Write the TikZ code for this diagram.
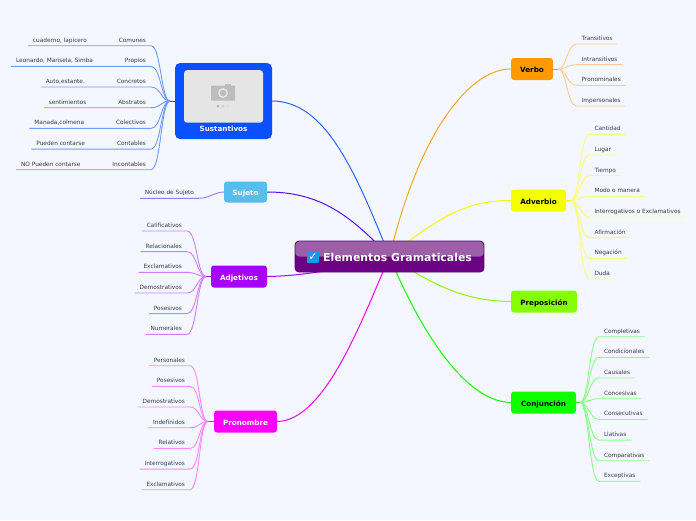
\documentclass[tikz,border=0pt]{standalone}
\usepackage{fontspec}
\setmainfont{DejaVu Sans}
\usetikzlibrary{positioning,backgrounds}
\definecolor{fondo}{HTML}{F4F7FF}
\definecolor{sustcolor}{HTML}{0A50FF}
\definecolor{sustbranch}{HTML}{2A66FF}
\definecolor{sustline}{HTML}{6F9BFF}
\definecolor{sujcolor}{HTML}{56BDED}
\definecolor{sujline}{HTML}{5511EE}
\definecolor{nucline}{HTML}{9A77FF}
\definecolor{adjcolor}{HTML}{A600FF}
\definecolor{adjline}{HTML}{CC80FF}
\definecolor{procolor}{HTML}{FF00FF}
\definecolor{proline}{HTML}{FF88FF}
\definecolor{vercolor}{HTML}{FF9900}
\definecolor{verbranch}{HTML}{FFA626}
\definecolor{verline}{HTML}{FFCC99}
\definecolor{advcolor}{HTML}{F4FF00}
\definecolor{advline}{HTML}{FAFF80}
\definecolor{prepcolor}{HTML}{88FF00}
\definecolor{concolor}{HTML}{0EFF00}
\definecolor{conline}{HTML}{8CFF8C}
\definecolor{textcolor}{HTML}{3A3A48}
\definecolor{centraltop}{HTML}{9C5FA8}
\definecolor{centralbot}{HTML}{6B0085}
\definecolor{centraledge}{HTML}{4F0F66}
\definecolor{checkblue}{HTML}{1E96E6}
\definecolor{camera}{HTML}{BDBDBD}

\begin{document}
\begin{tikzpicture}[
x=1pt,y=-1pt,
topic/.style={rounded corners=3pt,inner sep=0pt,outer sep=0pt,text height=7pt,text depth=0pt,font=\fontsize{7.2}{8}\selectfont\bfseries,align=center},
leaf/.style={inner xsep=5pt,inner ysep=0pt,outer sep=0pt,text height=7.27pt,text depth=3.4pt,text=textcolor,font=\fontsize{5.8}{6}\selectfont},
rightfirst/.style={leaf,anchor=south west},
leftfirst/.style={leaf,anchor=south east},
rightnext/.style={leaf,below=10pt of #1.south west,anchor=north west},
leftnext/.style={leaf,below=10pt of #1.south east,anchor=north east},
branch/.style={line width=1pt},
twig/.style={line width=0.9pt},
twigright/.style={to path={.. controls +(9,0) and +(-10,0) .. (\tikztotarget)}},
twigleft/.style={to path={.. controls +(-9,0) and +(10,0) .. (\tikztotarget)}}]
\useasboundingbox (0,0) rectangle (696,520);
% central topic
\node (elementos) [rounded corners=4pt,draw=centraledge,line width=0.8pt,minimum width=189pt,minimum height=31pt,inner sep=0pt,
  path picture={\fill[centralbot] (path picture bounding box.south west) rectangle (path picture bounding box.north east);
  \fill[centraltop] (path picture bounding box.north west) rectangle (path picture bounding box.east);}] at (389.5,256.5) {};
\node (titulo) [inner sep=0pt,text=white,font=\fontsize{10.9}{12}\selectfont\bfseries] at (397.5,257) {Elementos Gramaticales};
\node (check) [fill=checkblue,rounded corners=1pt,minimum size=12pt,inner sep=0pt,text=white,font=\fontsize{11}{11}\selectfont] at (313,257) {✓};
% main topics
\node (sustantivos) [topic,fill=sustcolor,text=white,minimum width=97pt,text height=68pt,text depth=8pt,rounded corners=5pt] at (223.5,101) {Sustantivos};
\node (foto) [below=7pt of sustantivos.north,fill=black!10,rounded corners=3pt,minimum width=79pt,minimum height=52.5pt,inner sep=0pt] {};
\node (sujeto) [topic,fill=sujcolor,text=white,minimum width=43pt,minimum height=21pt] at (245.5,192) {Sujeto};
\node (adjetivos) [topic,fill=adjcolor,text=white,minimum width=56pt,minimum height=22pt] at (239,276.5) {Adjetivos};
\node (pronombre) [topic,fill=procolor,text=white,minimum width=63pt,minimum height=22pt] at (245.5,421.5) {Pronombre};
\node (verbo) [topic,fill=vercolor,text=black,minimum width=42pt,minimum height=22pt] at (532,69) {Verbo};
\node (adverbio) [topic,fill=advcolor,text=black,minimum width=55pt,minimum height=22pt] at (538.5,200.5) {Adverbio};
\node (preposicion) [topic,fill=prepcolor,text=black,minimum width=66pt,minimum height=22pt] at (544,301.5) {Preposición};
\node (conjuncion) [topic,fill=concolor,text=black,minimum width=65pt,minimum height=22pt] at (543.5,402.5) {Conjunción};
% camera placeholder
\fill[camera,rounded corners=0.6pt] (211,85.7) rectangle (235,100.7);
\fill[camera] (225,84) rectangle (231,86);
\fill[black!10] (223,93) circle (5);
\fill[camera] (223,93) circle (3.3);
\fill[black!30] (218,106) circle (1.5);
\fill[camera!80!white] (223,106) circle (1.5);
\fill[black!12] (228,106) circle (1.5);
% hubs
\coordinate[left=5pt of sustantivos] (susthub);
\coordinate[left=5pt of adjetivos] (adjhub);
\coordinate[left=6pt of pronombre] (prohub);
\coordinate[right=5pt of verbo] (verhub);
\coordinate[right=5pt of adverbio] (advhub);
\coordinate[right=4pt of conjuncion] (conhub);
% leaves of Sustantivos
\node (comunes) [leftfirst] at (151,45.7) {Comunes};
\node (propios) [leftnext=comunes] {Propios};
\node (concretos) [leftnext=propios] {Concretos};
\node (abstratos) [leftnext=concretos] {Abstratos};
\node (colectivos) [leftnext=abstratos] {Colectivos};
\node (contables) [leftnext=colectivos] {Contables};
\node (incontables) [leftnext=contables] {Incontables};
\node (cuaderno) [leaf,left=22pt of comunes] {cuaderno, lapicero};
\node (leonardo) [leaf,left=22pt of propios] {Leonardo, Marisela, Simba};
\node (auto) [leaf,left=22pt of concretos] {Auto,estante.};
\node (sentimientos) [leaf,left=22pt of abstratos] {sentimientos};
\node (manada) [leaf,left=22pt of colectivos] {Manada,colmena};
\node (puedencon) [leaf,left=22pt of contables] {Pueden contarse};
\node (nopueden) [leaf,left=22pt of incontables] {NO Pueden contarse};
\node (nucleo) [leftfirst] at (199,198.3) {Núcleo de Sujeto};
% leaves of Adjetivos
\node (calificativos) [leftfirst] at (187,231) {Calificativos};
\node (relacionales) [leftnext=calificativos] {Relacionales};
\node (exclamadj) [leftnext=relacionales] {Exclamativos};
\node (demosadj) [leftnext=exclamadj] {Demostrativos};
\node (posesadj) [leftnext=demosadj] {Posesivos};
\node (numerales) [leftnext=posesadj] {Numerales};
% leaves of Pronombre
\node (personales) [leftfirst] at (190,365.7) {Personales};
\node (posespro) [leftnext=personales] {Posesivos};
\node (demospro) [leftnext=posespro] {Demostrativos};
\node (indefinidos) [leftnext=demospro] {Indefinidos};
\node (relativos) [leftnext=indefinidos] {Relativos};
\node (interrogativos) [leftnext=relativos] {Interrogativos};
\node (exclampro) [leftnext=interrogativos] {Exclamativos};
% leaves of Verbo
\node (transitivos) [rightfirst] at (576.7,44) {Transitivos};
\node (intransitivos) [rightnext=transitivos] {Intransitivos};
\node (pronominales) [rightnext=intransitivos] {Pronominales};
\node (impersonales) [rightnext=pronominales] {Impersonales};
% leaves of Adverbio
\node (cantidad) [rightfirst] at (589.5,134.3) {Cantidad};
\node (lugar) [rightnext=cantidad] {Lugar};
\node (tiempo) [rightnext=lugar] {Tiempo};
\node (modo) [rightnext=tiempo] {Modo o manera};
\node (interexcl) [rightnext=modo] {Interrogativos o Exclamativos};
\node (afirmacion) [rightnext=interexcl] {Afirmación};
\node (negacion) [rightnext=afirmacion] {Negación};
\node (duda) [rightnext=negacion] {Duda};
% leaves of Conjuncion
\node (completivas) [rightfirst] at (599,336.7) {Completivas};
\node (condicionales) [rightnext=completivas] {Condicionales};
\node (causales) [rightnext=condicionales] {Causales};
\node (concesivas) [rightnext=causales] {Concesivas};
\node (consecutivas) [rightnext=concesivas] {Consecutivas};
\node (llativas) [rightnext=consecutivas] {Llativas};
\node (comparativas) [rightnext=llativas] {Comparativas};
\node (exceptivas) [rightnext=comparativas] {Exceptivas};
% connectors under the nodes
\begin{scope}[on background layer]
\fill[fondo] (0,0) rectangle (696,520);
\draw[branch,sustbranch] (sustantivos.east) .. controls (325,101) and (355,170) .. (elementos.center);
\draw[branch,sujline] (sujeto.east) .. controls (320,192) and (350,215) .. (elementos.center);
\draw[branch,adjcolor] (adjetivos.east) .. controls (300,276) and (340,270) .. (elementos.center);
\draw[branch,procolor] (pronombre.east) .. controls (325,421) and (362,320) .. (elementos.center);
\draw[branch,verbranch] (verbo.west) .. controls (470,69) and (420,130) .. (elementos.center);
\draw[branch,advcolor] (adverbio.west) .. controls (470,200) and (440,215) .. (elementos.center);
\draw[branch,prepcolor] (preposicion.west) .. controls (470,301) and (440,290) .. (elementos.center);
\draw[branch,concolor] (conjuncion.west) .. controls (465,402) and (420,330) .. (elementos.center);
\draw[branch,sustcolor] (sustantivos.west) -- (susthub);
\draw[branch,adjcolor] (adjetivos.west) -- (adjhub);
\draw[branch,procolor] (pronombre.west) -- (prohub);
\draw[branch,vercolor] (verbo.east) -- (verhub);
\draw[branch,advcolor] (adverbio.east) -- (advhub);
\draw[branch,concolor] (conjuncion.east) -- (conhub);
\draw[twig,sustline] (susthub) to[twigleft] (comunes.south east) -- (comunes.south west) -- (cuaderno.south east) -- (cuaderno.south west);
\draw[twig,sustline] (susthub) to[twigleft] (propios.south east) -- (propios.south west) -- (leonardo.south east) -- (leonardo.south west);
\draw[twig,sustline] (susthub) to[twigleft] (concretos.south east) -- (concretos.south west) -- (auto.south east) -- (auto.south west);
\draw[twig,sustline] (susthub) to[twigleft] (abstratos.south east) -- (abstratos.south west) -- (sentimientos.south east) -- (sentimientos.south west);
\draw[twig,sustline] (susthub) to[twigleft] (colectivos.south east) -- (colectivos.south west) -- (manada.south east) -- (manada.south west);
\draw[twig,sustline] (susthub) to[twigleft] (contables.south east) -- (contables.south west) -- (puedencon.south east) -- (puedencon.south west);
\draw[twig,sustline] (susthub) to[twigleft] (incontables.south east) -- (incontables.south west) -- (nopueden.south east) -- (nopueden.south west);
\draw[twig,nucline] (sujeto.west) to[twigleft] (nucleo.south east) -- (nucleo.south west);
\draw[twig,adjline] (adjhub) to[twigleft] (calificativos.south east) -- (calificativos.south west);
\draw[twig,adjline] (adjhub) to[twigleft] (relacionales.south east) -- (relacionales.south west);
\draw[twig,adjline] (adjhub) to[twigleft] (exclamadj.south east) -- (exclamadj.south west);
\draw[twig,adjline] (adjhub) to[twigleft] (demosadj.south east) -- (demosadj.south west);
\draw[twig,adjline] (adjhub) to[twigleft] (posesadj.south east) -- (posesadj.south west);
\draw[twig,adjline] (adjhub) to[twigleft] (numerales.south east) -- (numerales.south west);
\draw[twig,proline] (prohub) to[twigleft] (personales.south east) -- (personales.south west);
\draw[twig,proline] (prohub) to[twigleft] (posespro.south east) -- (posespro.south west);
\draw[twig,proline] (prohub) to[twigleft] (demospro.south east) -- (demospro.south west);
\draw[twig,proline] (prohub) to[twigleft] (indefinidos.south east) -- (indefinidos.south west);
\draw[twig,proline] (prohub) to[twigleft] (relativos.south east) -- (relativos.south west);
\draw[twig,proline] (prohub) to[twigleft] (interrogativos.south east) -- (interrogativos.south west);
\draw[twig,proline] (prohub) to[twigleft] (exclampro.south east) -- (exclampro.south west);
\draw[twig,verline] (verhub) to[twigright] (transitivos.south west) -- (transitivos.south east);
\draw[twig,verline] (verhub) to[twigright] (intransitivos.south west) -- (intransitivos.south east);
\draw[twig,verline] (verhub) to[twigright] (pronominales.south west) -- (pronominales.south east);
\draw[twig,verline] (verhub) to[twigright] (impersonales.south west) -- (impersonales.south east);
\draw[twig,advline] (advhub) to[twigright] (cantidad.south west) -- (cantidad.south east);
\draw[twig,advline] (advhub) to[twigright] (lugar.south west) -- (lugar.south east);
\draw[twig,advline] (advhub) to[twigright] (tiempo.south west) -- (tiempo.south east);
\draw[twig,advline] (advhub) to[twigright] (modo.south west) -- (modo.south east);
\draw[twig,advline] (advhub) to[twigright] (interexcl.south west) -- (interexcl.south east);
\draw[twig,advline] (advhub) to[twigright] (afirmacion.south west) -- (afirmacion.south east);
\draw[twig,advline] (advhub) to[twigright] (negacion.south west) -- (negacion.south east);
\draw[twig,advline] (advhub) to[twigright] (duda.south west) -- (duda.south east);
\draw[twig,conline] (conhub) to[twigright] (completivas.south west) -- (completivas.south east);
\draw[twig,conline] (conhub) to[twigright] (condicionales.south west) -- (condicionales.south east);
\draw[twig,conline] (conhub) to[twigright] (causales.south west) -- (causales.south east);
\draw[twig,conline] (conhub) to[twigright] (concesivas.south west) -- (concesivas.south east);
\draw[twig,conline] (conhub) to[twigright] (consecutivas.south west) -- (consecutivas.south east);
\draw[twig,conline] (conhub) to[twigright] (llativas.south west) -- (llativas.south east);
\draw[twig,conline] (conhub) to[twigright] (comparativas.south west) -- (comparativas.south east);
\draw[twig,conline] (conhub) to[twigright] (exceptivas.south west) -- (exceptivas.south east);
\end{scope}
\end{tikzpicture}
\end{document}
